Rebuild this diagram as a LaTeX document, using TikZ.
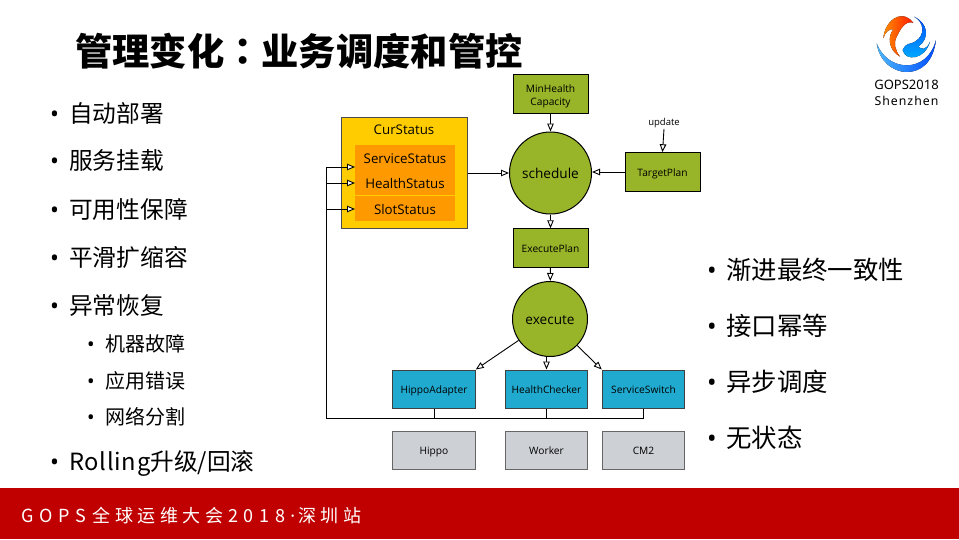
\documentclass[tikz,border=0pt]{standalone}
\usepackage{fontspec}
\usepackage{xcolor}
\setmainfont{Noto Sans CJK SC}
\newfontfamily\colonfont{Noto Sans CJK TC}
\newfontfamily\boxfont{Open Sans}
\newfontfamily\logofont{Noto Sans}
\usetikzlibrary{arrows.meta}
\definecolor{planGreen}{HTML}{98B428}
\definecolor{curYellow}{HTML}{FFCC00}
\definecolor{curOrange}{HTML}{FF9900}
\definecolor{adapterBlue}{HTML}{21AACF}
\definecolor{backendGray}{HTML}{CDD0D5}
\definecolor{footerRed}{HTML}{C00000}
\newcommand{\dotmark}[1]{\makebox[#1][l]{\logofont •}}
\newcommand{\widelatin}[1]{{\addfontfeature{LetterSpace=32}#1}}
\tikzset{
  plan/.style={draw=black,line width=1pt,fill=planGreen,minimum width=75pt,minimum height=38.5pt,inner sep=0pt,align=center,font=\boxfont\fontsize{10.2}{13}\selectfont},
  planline/.style={plan,text height=9pt,text depth=0pt},
  ball/.style={circle,draw=black,line width=1pt,fill=planGreen,inner sep=0pt,text height=10pt,text depth=0pt,font=\boxfont\fontsize{13.6}{16}\selectfont},
  status/.style={fill=curOrange,minimum width=100pt,inner sep=0pt,text height=11.5pt,text depth=0pt,font=\boxfont\fontsize{13.3}{15}\selectfont},
  adapter/.style={draw=black!75,line width=1pt,fill=adapterBlue,minimum width=82.5pt,minimum height=38pt,inner sep=0pt,text height=9pt,text depth=0pt,font=\boxfont\fontsize{10.2}{12}\selectfont},
  backend/.style={draw=black!60,line width=1pt,fill=backendGray,minimum width=82.5pt,minimum height=38pt,inner sep=0pt,text height=9pt,text depth=0pt,font=\boxfont\fontsize{10.2}{12}\selectfont},
  flow/.style={draw=black,line width=0.9pt,-{Triangle[open,fill=white,length=8pt,width=6.5pt]}},
  bus/.style={draw=black,line width=1pt},
  item/.style={anchor=west,inner sep=0pt,font=\fontsize{23.7}{28}\selectfont},
  subitem/.style={anchor=west,inner sep=0pt,font=\fontsize{20}{24}\selectfont},
  rightitem/.style={anchor=west,inner sep=0pt,font=\fontsize{25.4}{30}\selectfont}
}

\begin{document}
\begin{tikzpicture}[x=1pt,y=-1pt]
  \useasboundingbox (0,0) rectangle (959,539);

  \fill[footerRed] (0,488) rectangle (959,539);
  \node[anchor=west,inner sep=0pt,text=white,font=\fontsize{18}{22}\selectfont\addfontfeature{LetterSpace=25}](footer) at (21,515.5){\widelatin{GOPS}\kern-2pt{} 全球运维大会\kern5pt{}\widelatin{2018}\kern5pt{}{\logofont·}\kern3pt{}深圳站};
  \node[anchor=west,inner sep=0pt,font=\bfseries\fontsize{37.3}{44}\selectfont](title) at (75,51){管理变化{\colonfont\bfseries：}业务调度和管控};

  % lists
  \foreach \ypos/\words in {113/自动部署,161/服务挂载,209/可用性保障,257/平滑扩缩容,305/异常恢复}{
    \node[item](left\ypos) at (50,\ypos){\dotmark{19pt}\words};
  }
  \node[item](rolling) at (50,463.5){\dotmark{19pt}{\addfontfeature{LetterSpace=3}Rolling}升级/回滚};
  \foreach \ypos/\words in {344/机器故障,381/应用错误,417/网络分割}{
    \node[subitem](sub\ypos) at (87,\ypos){\dotmark{18pt}\words};
  }
  \foreach \ypos/\words in {270/渐进最终一致性,326/接口幂等,382/异步调度,438/无状态}{
    \node[rightitem](right\ypos) at (707,\ypos){\dotmark{19pt}\words};
  }

  % status block
  \node[draw=black!70,line width=1pt,fill=curYellow,minimum width=126pt,minimum height=111pt](cur) at (404.5,173){};
  \node[inner sep=0pt,text height=11.5pt,text depth=0pt,font=\boxfont\fontsize{13.3}{15}\selectfont](curlabel) at (404,129){CurStatus};
  \node[status,minimum height=25pt](svc) at (405,157.5){ServiceStatus};
  \node[status,minimum height=25pt](hlt) at (405,182.5){HealthStatus};
  \node[status,minimum height=25pt](slt) at (405,208.5){SlotStatus};

  % plans
  \node[plan](mhc) at (550.5,94){\rule{0pt}{12pt}MinHealth\\Capacity};
  \node[ball,minimum size=82pt](sch) at (550.5,173){schedule};
  \node[planline](tgt) at (662.5,172){TargetPlan};
  \node[inner sep=1pt,font=\boxfont\fontsize{9.5}{11}\selectfont](upd) at (664,123){update};
  \node[planline](exp) at (550.5,248){ExecutePlan};
  \node[ball,minimum size=75pt](exe) at (550,319){execute};

  % adapters
  \node[adapter](had) at (434,389){HippoAdapter};
  \node[adapter](hck) at (546.5,389){HealthChecker};
  \node[adapter](ssw) at (643.5,389){ServiceSwitch};
  \node[backend](hip) at (434,450){Hippo};
  \node[backend](wrk) at (546.5,450){Worker};
  \node[backend](cm2) at (643.5,450){CM2};

  \draw[flow] (mhc) -- (sch);
  \draw[flow] (cur.east |- sch) -- (sch);
  \draw[flow] (tgt) -- (sch.east |- tgt);
  \draw[flow] (upd.south) -- (tgt.north);
  \draw[flow] (sch) -- (exp);
  \draw[flow] (exp) -- (exe);
  \draw[flow] (exe) -- (had.north east);
  \draw[flow] (hck.north |- exe.south) -- (hck.north);
  \draw[flow] (exe) -- (ssw.north west);

  % feedback
  \coordinate (fbk) at (326,418);
  \coordinate (in1) at (355,167);
  \coordinate (in2) at (355,183);
  \coordinate (in3) at (355,209);
  \draw[bus] (ssw.south) |- (fbk) -- (fbk |- in1);
  \draw[bus] (had.south) -- (had.south |- fbk);
  \draw[bus] (hck.south) -- (hck.south |- fbk);
  \draw[flow] (fbk |- in1) -- (in1);
  \draw[flow] (fbk |- in2) -- (in2);
  \draw[flow] (fbk |- in3) -- (in3);

  % logo
  \begin{scope}[shift={(850,0)},x=0.3333pt,y=-0.3333pt]
    \fill[left color=cyan!60!blue!70,right color=blue!70!cyan] (80,130) .. controls (88,185) and (130,216) .. (170,216) .. controls (215,216) and (250,185) .. (258,120) .. controls (245,170) and (210,196) .. (170,196) .. controls (130,196) and (95,170) .. (80,130) -- cycle;
    \fill[left color=orange!90!yellow,right color=red!80!orange] (100,115) .. controls (102,70) and (150,20) .. (190,68) .. controls (165,60) and (150,90) .. (140,110) .. controls (130,130) and (135,150) .. (150,170) .. controls (115,150) and (112,110) .. (130,88) .. controls (120,85) and (105,95) .. (100,115) -- cycle;
    \fill[top color=blue!70!cyan,bottom color=cyan!70!blue] (192,50) .. controls (222,65) and (228,105) .. (195,125) .. controls (180,135) and (170,125) .. (158,150) .. controls (165,185) and (225,180) .. (240,125) .. controls (230,150) and (215,150) .. (205,140) .. controls (240,115) and (235,70) .. (192,50) -- cycle;
  \end{scope}
  \node[inner sep=0pt,font=\logofont\fontsize{13}{15}\selectfont](logotop) at (906.5,85){\textbf{GOPS}2018};
  \node[inner sep=0pt,font=\logofont\fontsize{12.3}{14}\selectfont\addfontfeature{LetterSpace=8}](logobot) at (906.5,101){Shenzhen};
\end{tikzpicture}
\end{document}
